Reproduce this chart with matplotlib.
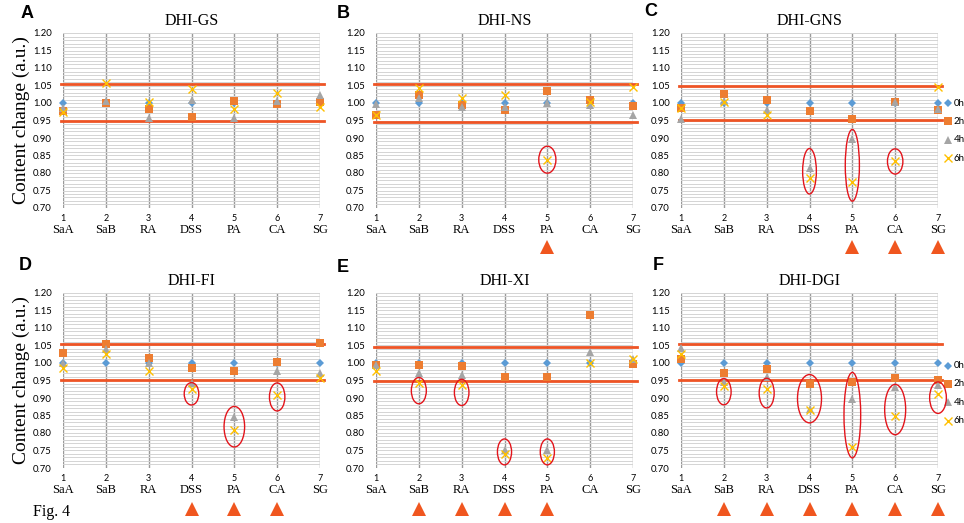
import matplotlib
matplotlib.use("Agg")
import matplotlib.pyplot as plt
from matplotlib.patches import Ellipse
from matplotlib.ticker import MultipleLocator

# data
categories = ["SaA", "SaB", "RA", "DSS", "PA", "CA", "SG"]
x_pos = [1, 2, 3, 4, 5, 6, 7]
times = ["0h", "2h", "4h", "6h"]

titles = ["DHI-GS", "DHI-NS", "DHI-GNS", "DHI-FI", "DHI-XI", "DHI-DGI"]
letters = ["A", "B", "C", "D", "E", "F"]

gs_0h = [1.000, 1.000, 1.000, 1.000, 1.000, 1.000, 1.000]
gs_2h = [0.977, 1.000, 0.984, 0.959, 1.006, 0.998, 1.002]
gs_4h = [0.985, 1.005, 0.958, 1.010, 0.958, 1.005, 1.022]
gs_6h = [0.975, 1.057, 1.003, 1.040, 0.982, 1.028, 0.988]

ns_0h = [1.000, 1.000, 1.000, 1.000, 1.000, 1.000, 1.000]
ns_2h = [0.965, 1.022, 0.995, 0.980, 1.035, 1.008, 0.992]
ns_4h = [0.997, 1.015, 0.990, 0.990, 1.000, 0.995, 0.966]
ns_6h = [0.965, 1.043, 1.015, 1.022, 0.838, 1.002, 1.045]

gns_0h = [1.000, 1.000, 1.000, 1.000, 1.000, 1.000, 1.000]
gns_2h = [0.985, 1.027, 1.008, 0.977, 0.955, 1.002, 0.980]
gns_4h = [0.955, 1.005, 0.980, 0.815, 0.898, 1.003, 0.982]
gns_6h = [0.985, 1.002, 0.965, 0.785, 0.775, 0.835, 1.047]

fi_0h = [1.000, 1.000, 1.000, 1.000, 1.000, 1.000, 1.000]
fi_2h = [1.028, 1.054, 1.013, 0.986, 0.976, 1.002, 1.057]
fi_4h = [1.000, 1.040, 1.000, 0.943, 0.845, 0.977, 0.970]
fi_6h = [0.987, 1.027, 0.977, 0.927, 0.808, 0.908, 0.958]

xi_0h = [1.000, 1.000, 1.000, 1.000, 1.000, 1.000, 1.000]
xi_2h = [0.995, 0.995, 0.991, 0.961, 0.960, 1.138, 0.997]
xi_4h = [0.993, 0.972, 0.966, 0.750, 0.752, 1.032, 1.010]
xi_6h = [0.978, 0.942, 0.937, 0.739, 0.730, 1.000, 1.010]

dgi_0h = [1.000, 1.000, 1.000, 1.000, 1.000, 1.000, 1.000]
dgi_2h = [1.012, 0.970, 0.984, 0.940, 0.946, 0.957, 0.950]
dgi_4h = [1.042, 0.945, 0.960, 0.868, 0.897, 0.932, 0.937]
dgi_6h = [1.025, 0.935, 0.925, 0.867, 0.760, 0.849, 0.910]

# threshold lines (upper, lower) per panel
limits = [(1.053, 0.949), (1.053, 0.946), (1.048, 0.952),
          (1.054, 0.951), (1.047, 0.948), (1.054, 0.950)]

# categories marked significant (triangle below axis)
significant = [[], [5], [5, 6, 7], [4, 5, 6], [2, 3, 4, 5], [2, 3, 4, 5, 6, 7]]

# red ellipses: (x, centre, width, height)
circled = [
    [],
    [(5, 0.838, 0.40, 0.077)],
    [(4, 0.805, 0.32, 0.13), (5, 0.822, 0.33, 0.205), (6, 0.833, 0.36, 0.072)],
    [(4, 0.912, 0.34, 0.064), (5, 0.818, 0.48, 0.116), (6, 0.903, 0.36, 0.08)],
    [(2, 0.921, 0.35, 0.075), (3, 0.916, 0.34, 0.075),
     (4, 0.746, 0.33, 0.074), (5, 0.746, 0.33, 0.074)],
    [(2, 0.918, 0.34, 0.075), (3, 0.914, 0.35, 0.085), (4, 0.898, 0.56, 0.138),
     (5, 0.851, 0.39, 0.244), (6, 0.867, 0.49, 0.144), (7, 0.901, 0.39, 0.09)],
]

panels = [
    [gs_0h, gs_2h, gs_4h, gs_6h],
    [ns_0h, ns_2h, ns_4h, ns_6h],
    [gns_0h, gns_2h, gns_4h, gns_6h],
    [fi_0h, fi_2h, fi_4h, fi_6h],
    [xi_0h, xi_2h, xi_4h, xi_6h],
    [dgi_0h, dgi_2h, dgi_4h, dgi_6h],
]

styles = [
    dict(marker="D", color="#5B9BD5", ms=4.5, mew=0),
    dict(marker="s", color="#ED7D31", ms=6.2, mew=0),
    dict(marker="^", color="#A5A5A5", ms=6.0, mew=0),
    dict(marker="x", color="#FFC000", ms=6.0, mew=1.0),
]

serif = "Liberation Serif"
sans = "Lato"
line_col = "#EE5425"
mark_col = "#F0561F"

W, H = 964, 523
fig = plt.figure(figsize=(W / 100, H / 100), dpi=100)

lefts = [63, 376, 681]
bottoms = [208, 468]
aw, ah = 257, 175

for i in range(6):
	row, col = divmod(i, 3)
	ax = fig.add_axes([lefts[col] / W, 1 - bottoms[row] / H, aw / W, ah / H])
	ax.set_xlim(1, 7)
	ax.set_ylim(0.70, 1.20)
	for s in ax.spines.values():
		s.set_visible(False)

	ax.yaxis.set_major_locator(MultipleLocator(0.05))
	ax.yaxis.set_minor_locator(MultipleLocator(0.01))
	ax.set_xticks(x_pos)
	ax.set_xticklabels([])
	ax.tick_params(length=0, which="both")
	ax.tick_params(axis="y", labelsize=6.8, pad=8)
	ax.set_yticklabels(["%.2f" % v for v in ax.get_yticks()], fontfamily=sans)
	ax.grid(axis="y", which="both", color="#D4D4D4", lw=0.7)
	ax.grid(axis="x", which="major", color="#9A9A9A", lw=1.0)
	ax.set_axisbelow(True)

	# threshold lines
	for y in limits[i]:
		ax.plot([0.95, 7.1], [y, y], color=line_col, lw=2.0, clip_on=False, zorder=2)

	for vals, st in zip(panels[i], styles):
		ax.plot(x_pos, vals, ls="none", clip_on=False, zorder=3,
			marker=st["marker"], color=st["color"], ms=st["ms"], mew=st["mew"])

	for (cx, cy, w, h) in circled[i]:
		ax.add_patch(Ellipse((cx, cy), w, h, fill=False, ec="#E3141B", lw=1.0,
			clip_on=False, zorder=4))

	trans = ax.get_xaxis_transform()
	for x, c in zip(x_pos, categories):
		ax.text(x, -0.058, str(x), transform=trans, ha="center", va="center",
			fontsize=6.5, family=sans)
		ax.text(x, -0.128, c, transform=trans, ha="center", va="center",
			fontsize=9, family=serif)

	ty = -0.22 if row == 0 else -0.235
	for x in significant[i]:
		ax.plot(x, ty, marker="^", ms=10.5, color=mark_col, mew=0,
			transform=trans, clip_on=False)

	ax.set_title(titles[i], family=serif, fontsize=11.5, pad=6)

	if col == 0:
		ax.set_ylabel("Content change (a.u.)", family=serif, fontsize=14, labelpad=2)

	if col == 2:
		leg_y = [0.60, 0.495, 0.39, 0.285] if row == 0 else [0.585, 0.48, 0.375, 0.27]
		for t, st, ly in zip(times, styles, leg_y):
			ax.plot(1.04, ly, transform=ax.transAxes, clip_on=False, ls="none",
				marker=st["marker"], color=st["color"], ms=st["ms"] * 0.95, mew=st["mew"])
			ax.text(1.06, ly, t, transform=ax.transAxes, ha="left", va="center",
				fontsize=7, family=sans)

# panel letters
letter_pos = [(27, 14), (343, 13), (651, 12), (25, 266), (343, 267), (658, 265)]
for l, (px, py) in zip(letters, letter_pos):
	fig.text(px / W, 1 - py / H, l, ha="center", va="center", fontsize=13,
		fontweight="bold", family="Liberation Sans")

fig.text(52 / W, 1 - 512 / H, "Fig. 4", ha="center", va="center", fontsize=11.5,
	family=serif)

fig.savefig("out.png", dpi=100)
